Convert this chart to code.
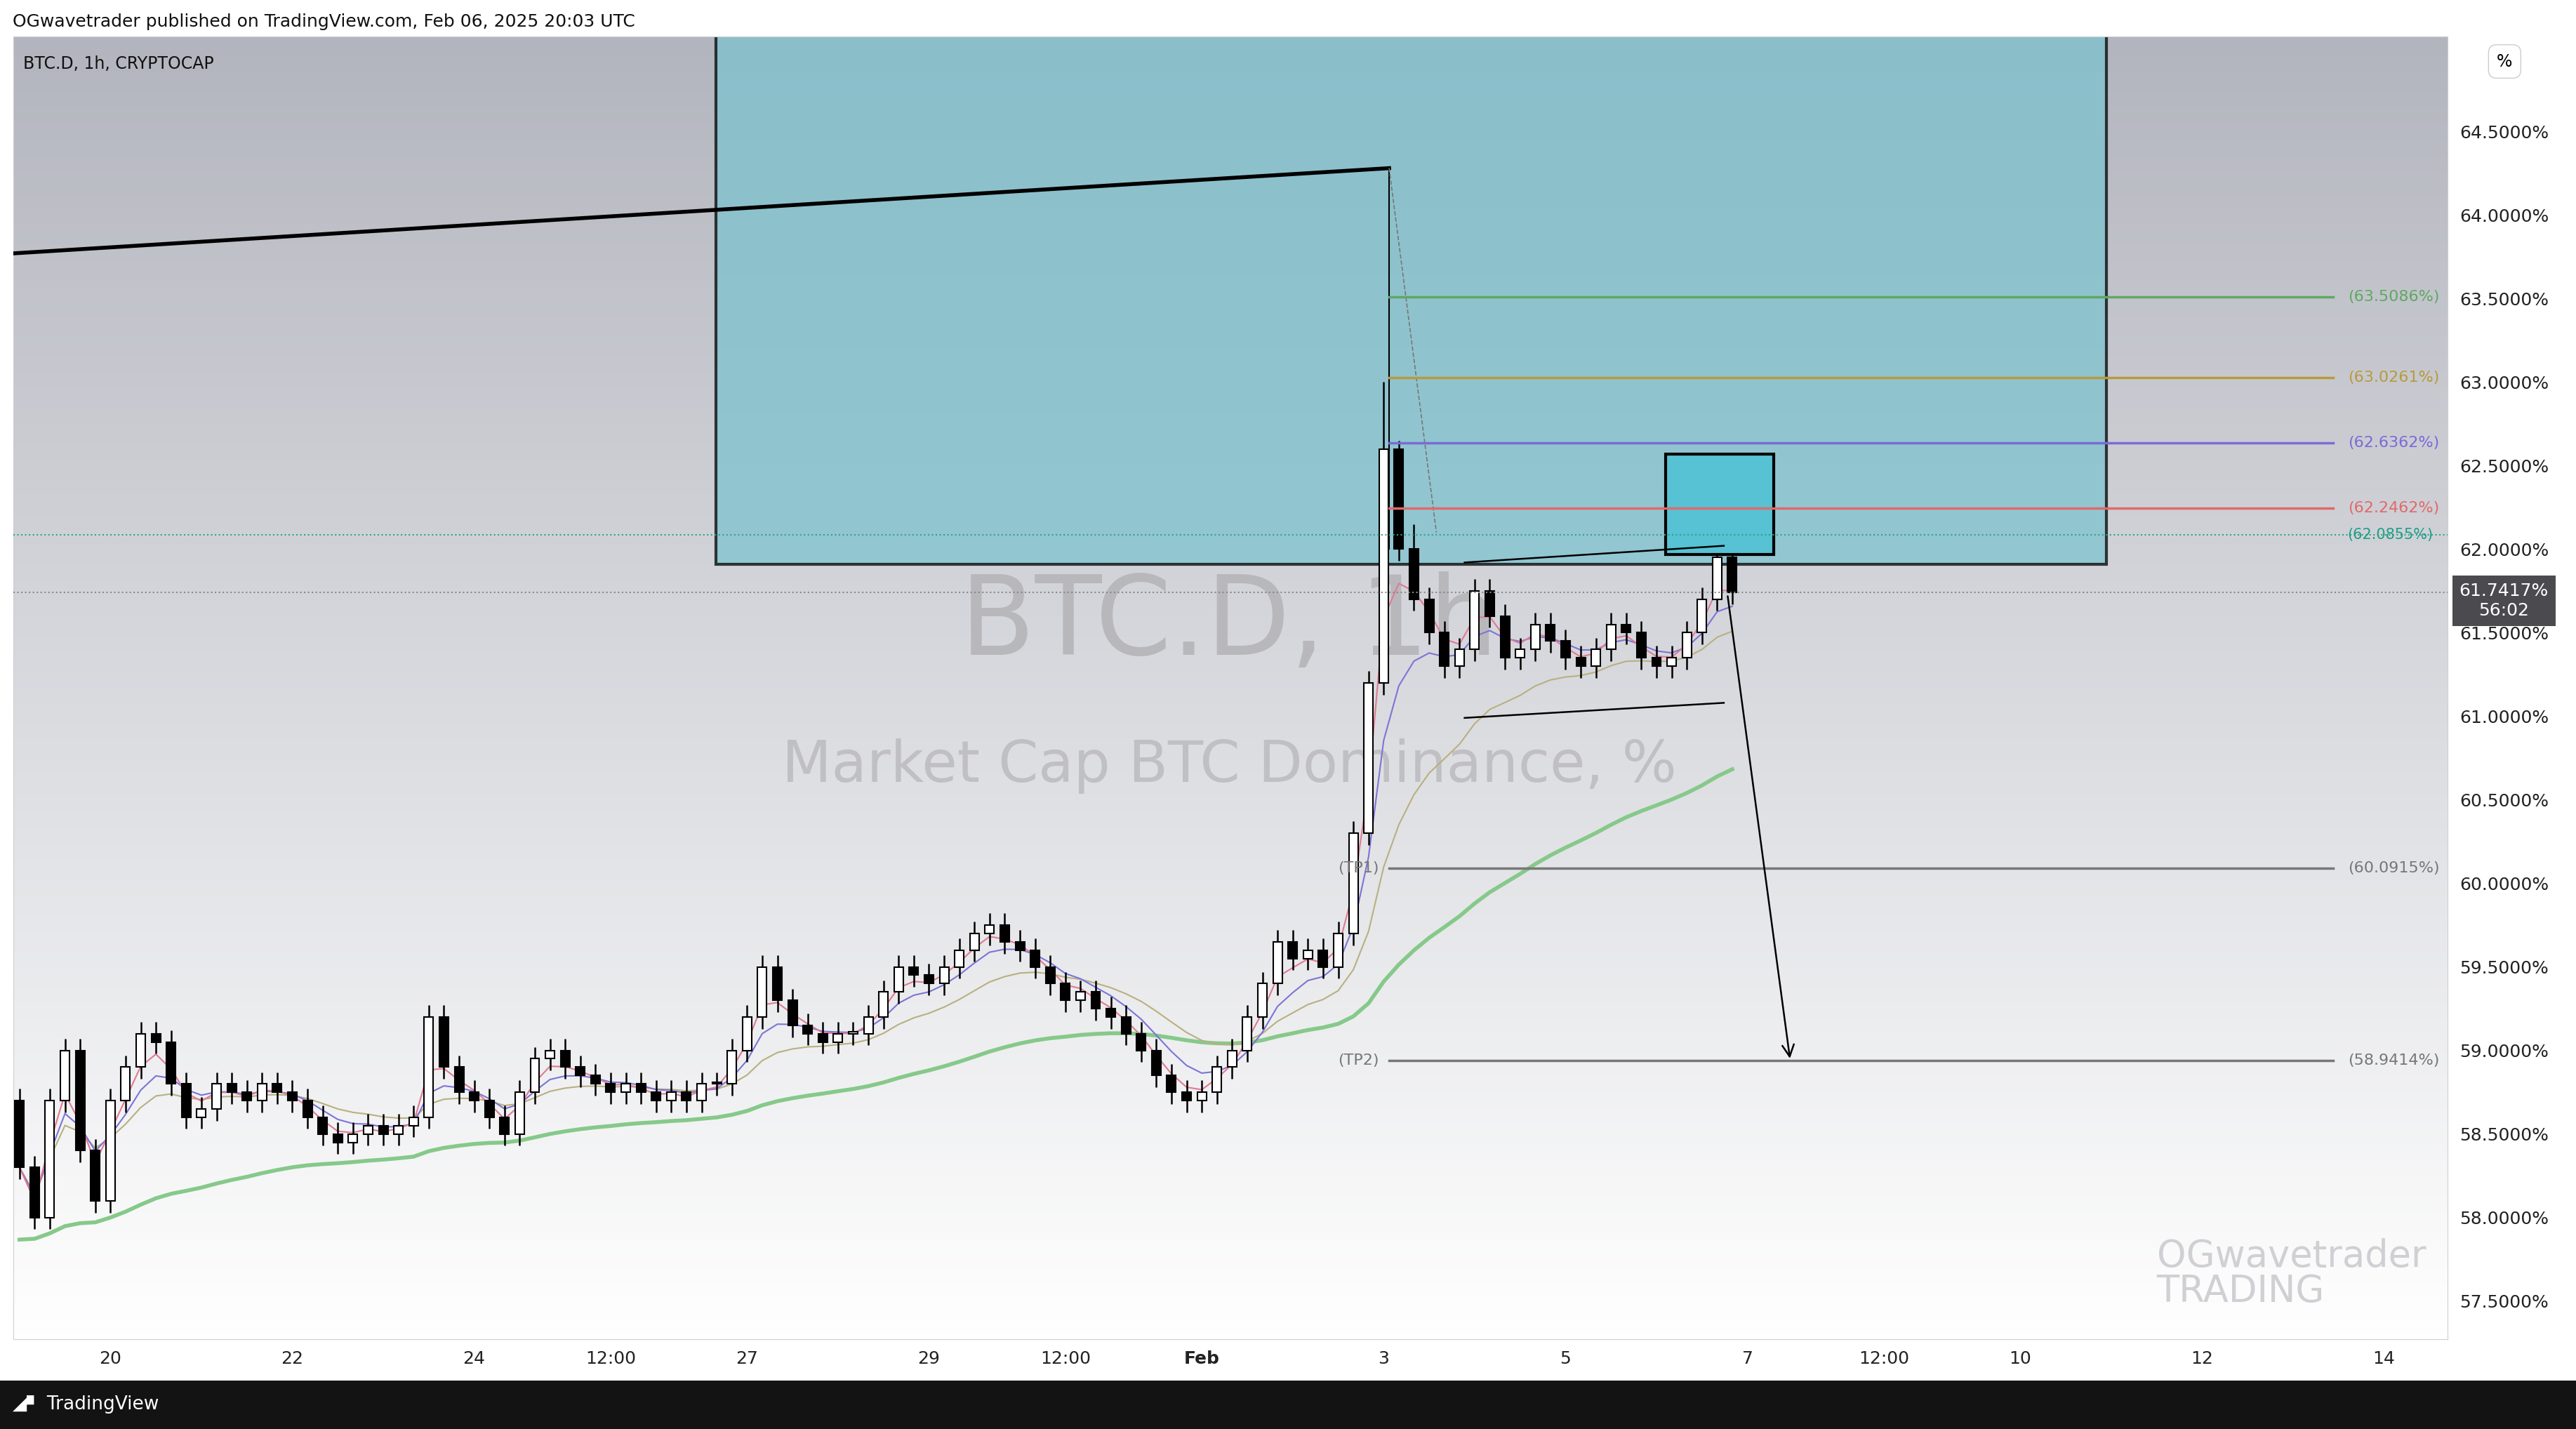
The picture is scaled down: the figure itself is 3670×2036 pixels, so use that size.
import numpy as np, pandas as pd, seaborn as sns, matplotlib
matplotlib.use("Agg")
import matplotlib.pyplot as plt
from matplotlib.patches import Rectangle, FancyArrowPatch
from matplotlib.colors import LinearSegmentedColormap

# ---- data (4h candles, day 0 = Jan 19 00:00) ----
closes = [58.3,58.0,58.7,59.0,58.4,58.1, 58.7,58.9,59.1,59.05,58.8,58.6,
          58.65,58.8,58.75,58.7,58.8,58.75, 58.7,58.6,58.5,58.45,58.5,58.55,
          58.5,58.55,58.6,59.2,58.9,58.75, 58.7,58.6,58.5,58.75,58.95,59.0,
          58.9,58.85,58.8,58.75,58.8,58.75, 58.7,58.75,58.7,58.8,58.8,59.0,
          59.2,59.5,59.3,59.15,59.1,59.05, 59.1,59.1,59.2,59.35,59.5,59.45,
          59.4,59.5,59.6,59.7,59.75,59.65, 59.6,59.5,59.4,59.3,59.35,59.25,
          59.2,59.1,59.0,58.85,58.75,58.7, 58.75,58.9,59.0,59.2,59.4,59.65,
          59.55,59.6,59.5,59.7,60.3,61.2, 62.6,62.0,61.7,61.5,61.3,61.4,
          61.75,61.6,61.35,61.4,61.55,61.45, 61.35,61.3,61.4,61.55,61.5,61.35,
          61.3,61.35,61.5,61.7,61.95,61.74]
first_open = 58.7
long_ma_seed = 57.85
special_highs = {90: 63.0, 91: 62.65, 92: 62.15}
fib_levels = [63.5086, 63.0261, 62.6362, 62.2462]
fib_colors = ["#5fa863", "#b89a3c", "#7a6bd6", "#e06a6a"]
tp_levels = [60.0915, 58.9414]
tp_names = ["(TP1)", "(TP2)"]
last_price = 61.7417
teal_level = 62.0855
xtick_pos = [1,3,5,6.5,8,10,11.5,13,15,17,19,20.5,22,24,26]
xtick_lab = ["20","22","24","12:00","27","29","12:00","Feb","3","5","7","12:00","10","12","14"]
yticks = [57.5,58.0,58.5,59.0,59.5,60.0,60.5,61.0,61.5,62.0,62.5,63.0,63.5,64.0,64.5]

t = np.arange(len(closes)) * 4/24
opens = [first_open] + closes[:-1]
df = pd.DataFrame({"t": t, "o": opens, "c": closes})
df["hi"] = np.maximum(df.o, df.c) + 0.07
df["lo"] = np.minimum(df.o, df.c) - 0.07
for k, v in special_highs.items():
    df.loc[k, "hi"] = v
df["ema_fast"] = df.c.ewm(span=3).mean()
df["ema_mid"] = df.c.ewm(span=6).mean()
df["ema_slow"] = df.c.ewm(span=14).mean()
df["ema_long"] = pd.Series([long_ma_seed] + closes).ewm(span=50, adjust=False).mean().values[1:]

plt.rcParams["font.family"] = "DejaVu Sans"
fig = plt.figure(figsize=(36.7, 20.36), dpi=100)
fig.patch.set_facecolor("white")
ax = fig.add_axes([0.0051, 0.063, 0.9451, 0.9117])
XL = (-0.07, 26.7); YL = (57.273, 65.07)
ax.set_xlim(XL); ax.set_ylim(YL)

grad = np.linspace(0, 1, 256).reshape(-1, 1)
cm = LinearSegmentedColormap.from_list("g", ["#ffffff", "#b3b5be"])
ax.imshow(grad, extent=[*XL, *YL], aspect="auto", cmap=cm, zorder=0, origin="lower")

# watermark
ax.text(13.3, 61.55, "BTC.D, 1h", fontsize=112, color="#b8b8bc", ha="center", va="center", zorder=1)
ax.text(13.3, 60.7, "Market Cap BTC Dominance, %", fontsize=59, color="#c0c0c4", ha="center", va="center", zorder=1)
ax.text(23.5, 57.45, "OGwavetrader\nTRADING", fontsize=38, color="#d0d0d4", ha="left", va="bottom", linespacing=0.95, zorder=1)

# zones
ax.add_patch(Rectangle((7.66, 61.91), 22.95-7.66, 4.0, facecolor="#7dc3cf", alpha=0.75, edgecolor="black", lw=3, zorder=2))
ax.add_patch(Rectangle((18.1, 61.97), 1.19, 0.60, facecolor="#56c2d4", edgecolor="black", lw=3, zorder=5))

# moving averages via seaborn
sns.lineplot(data=df, x="t", y="ema_long", ax=ax, color="#86c98a", lw=4, zorder=3)
sns.lineplot(data=df, x="t", y="ema_slow", ax=ax, color="#b8b080", lw=1.5, zorder=3)
sns.lineplot(data=df, x="t", y="ema_mid", ax=ax, color="#7c74d6", lw=1.5, zorder=3)
sns.lineplot(data=df, x="t", y="ema_fast", ax=ax, color="#e07a92", lw=1.5, zorder=3)

# candles
w = 0.1
for _, r in df.iterrows():
    ax.vlines(r.t, r.lo, r.hi, color="black", lw=1.8, zorder=4)
    up = r.c >= r.o
    ax.add_patch(Rectangle((r.t - w/2, min(r.o, r.c)), w, max(abs(r.c - r.o), 0.01),
                           facecolor="white" if up else "black", edgecolor="black", lw=1.5, zorder=4))

# trend lines
ax.plot([-0.07, 15.06], [63.77, 64.28], color="black", lw=4, zorder=5)
ax.plot([15.06, 15.06], [64.28, 62.0], color="black", lw=1.5, zorder=5)
ax.plot([15.06, 15.58], [64.28, 62.1], color="#777777", lw=1.2, ls="--", zorder=5)
ax.plot([15.89, 18.74], [61.92, 62.02], color="black", lw=1.8, zorder=5)
ax.plot([15.89, 18.74], [60.99, 61.08], color="black", lw=1.8, zorder=5)
ax.add_patch(FancyArrowPatch((18.78, 61.73), (19.47, 58.94), arrowstyle="->", mutation_scale=30, color="black", lw=1.8, zorder=6))

# fib / TP lines
for lv, col in zip(fib_levels, fib_colors):
    ax.plot([15.06, 25.44], [lv, lv], color=col, lw=2.5, zorder=5)
    ax.text(25.6, lv, f"({lv:.4f}%)", color=col, fontsize=16, va="center", ha="left", zorder=6)
for lv, nm in zip(tp_levels, tp_names):
    ax.plot([15.06, 25.44], [lv, lv], color="#777777", lw=2.5, zorder=5)
    ax.text(25.6, lv, f"({lv:.4f}%)", color="#777777", fontsize=16, va="center", ha="left", zorder=6)
    ax.text(14.5, lv, nm, color="#777777", fontsize=16, va="center", ha="left", zorder=6)
ax.axhline(teal_level, color="#2aa58a", lw=1.5, ls=":", zorder=5)
ax.text(25.6, teal_level, f"({teal_level:.4f}%)", color="#1f9e85", fontsize=15, va="center", ha="left", zorder=6)
ax.axhline(last_price, color="#888888", lw=1.5, ls=":", zorder=5)

# axes styling
ax.set_xlabel(""); ax.set_ylabel("")
ax.yaxis.tick_right()
ax.set_yticks(yticks)
ax.set_yticklabels([f"{v:.4f}%" for v in yticks], fontsize=18, color="#222222")
ax.set_xticks(xtick_pos)
ax.set_xticklabels(xtick_lab, fontsize=18, color="#222222")
for lab in ax.get_xticklabels():
    if lab.get_text() == "Feb":
        lab.set_fontweight("bold")
ax.tick_params(length=0, pad=12)
for s in ax.spines.values():
    s.set_color("#cfcfcf")
ax.grid(False)

ax.text(0.004, 0.985, "BTC.D, 1h, CRYPTOCAP", transform=ax.transAxes, fontsize=17, va="top", ha="left", color="#111111", zorder=7)
fig.text(0.972, 0.5795, "61.7417%\n56:02", fontsize=18, color="white", ha="center", va="center",
         bbox=dict(boxstyle="square,pad=0.4", fc="#4a4a4f", ec="none"))
fig.text(0.9723, 0.957, "%", fontsize=17, ha="center", va="center",
         bbox=dict(boxstyle="round,pad=0.5", fc="white", ec="#cccccc"))
fig.text(0.005, 0.985, "OGwavetrader published on TradingView.com, Feb 06, 2025 20:03 UTC", fontsize=18, va="center", ha="left", color="#111111")
fig.add_artist(Rectangle((0, 0), 1, 0.034, transform=fig.transFigure, fc="#131313", ec="none"))
fig.text(0.005, 0.017, "◢▘ TradingView", fontsize=19, color="white", va="center", ha="left")
fig.savefig("out.png", dpi=100)
